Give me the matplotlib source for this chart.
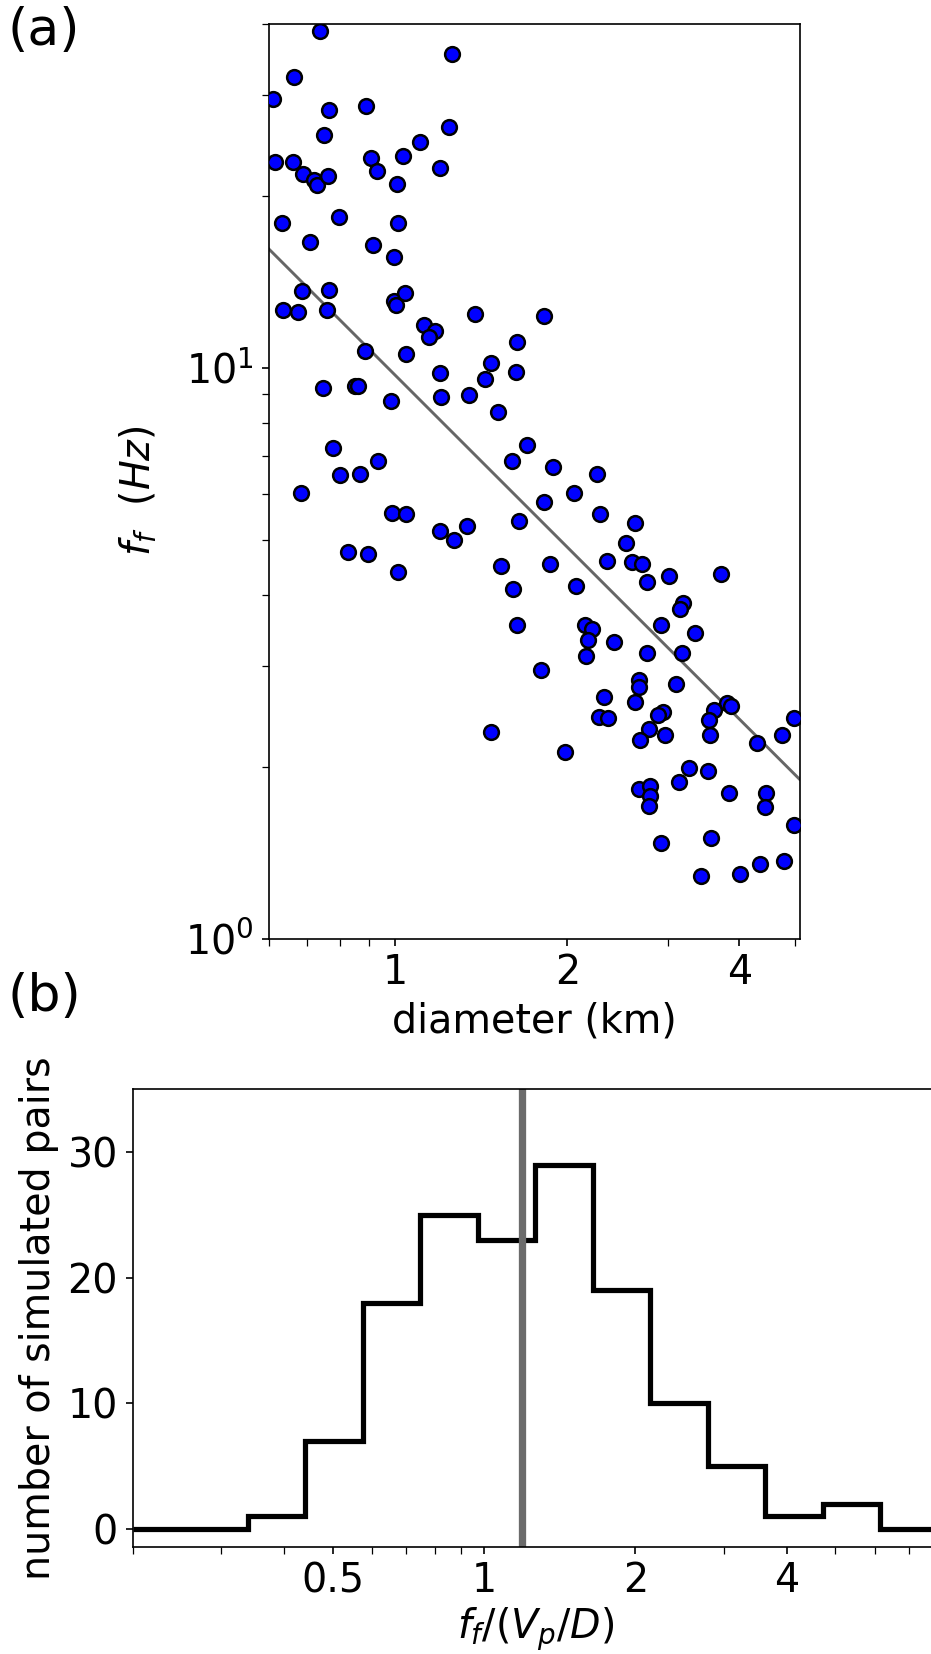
import numpy as np
import matplotlib
matplotlib.use('Agg')
import matplotlib.pyplot as plt
from matplotlib.ticker import NullFormatter

# (a) diametro vs frecuencia de esquina
diameter_km = [
    0.738, 1.257, 0.666, 0.612, 0.765, 0.890, 0.749, 1.244, 1.105, 0.615,
    0.661, 0.690, 0.722, 0.730, 0.764, 0.908, 0.929, 1.030, 1.199, 1.007,
    0.633, 0.798, 1.013, 0.709, 0.914, 0.996, 0.688, 0.767, 0.635, 0.676,
    0.761, 0.994, 1.003, 1.041, 1.379, 1.123, 1.174, 1.147, 1.821, 1.633,
    0.885, 1.046, 1.196, 1.473, 1.435, 1.629, 0.746, 0.849, 0.862, 0.983,
    1.204, 1.346, 1.515, 1.698, 1.599, 0.779, 0.933, 0.801, 0.868, 0.685,
    0.986, 1.043, 1.199, 1.265, 1.335, 1.649, 0.825, 0.895, 1.010, 1.534,
    1.610, 1.633, 1.471, 1.888, 2.258, 2.055, 1.821, 2.279, 2.632, 2.534,
    1.868, 2.347, 2.593, 2.707, 2.754, 3.013, 3.716, 2.075, 3.193, 3.150,
    2.145, 2.211, 2.914, 3.349, 2.178, 2.154, 2.418, 2.762, 3.180, 1.802,
    2.670, 2.675, 3.105, 2.316, 2.624, 2.272, 2.357, 2.937, 2.882, 2.776,
    2.681, 2.969, 3.813, 3.869, 3.618, 3.540, 3.550, 4.302, 4.751, 4.987,
    1.985, 3.266, 3.522, 3.142, 2.670, 2.791, 2.788, 2.781, 3.837, 4.454,
    4.431, 4.981, 2.914, 3.565, 3.428, 4.011, 4.355, 4.790,
]
corner_freq_hz = [
    38.9, 35.4, 32.3, 29.5, 28.3, 28.7, 25.6, 26.4, 24.9, 22.9,
    22.9, 21.8, 21.3, 20.9, 21.7, 23.3, 22.1, 23.5, 22.4, 21.0,
    17.9, 18.4, 17.9, 16.6, 16.4, 15.6, 13.6, 13.7, 12.6, 12.5,
    12.6, 13.1, 12.9, 13.5, 12.4, 11.9, 11.6, 11.3, 12.3, 11.1,
    10.7, 10.55, 9.80, 10.2, 9.57, 9.82, 9.20, 9.29, 9.29, 8.73,
    8.90, 8.96, 8.35, 7.31, 6.87, 7.23, 6.87, 6.48, 6.52, 6.04,
    5.57, 5.54, 5.17, 4.99, 5.29, 5.40, 4.76, 4.71, 4.39, 4.50,
    4.09, 3.55, 2.30, 6.69, 6.51, 6.04, 5.82, 5.54, 5.35, 4.93,
    4.53, 4.59, 4.56, 4.53, 4.22, 4.31, 4.36, 4.14, 3.87, 3.78,
    3.54, 3.49, 3.54, 3.43, 3.33, 3.13, 3.31, 3.17, 3.16, 2.95,
    2.84, 2.76, 2.79, 2.65, 2.60, 2.44, 2.43, 2.49, 2.46, 2.33,
    2.23, 2.27, 2.59, 2.56, 2.51, 2.42, 2.27, 2.20, 2.27, 2.43,
    2.12, 1.99, 1.97, 1.88, 1.83, 1.85, 1.78, 1.71, 1.80, 1.80,
    1.70, 1.58, 1.47, 1.50, 1.29, 1.30, 1.35, 1.37,
]
# ajuste f = C / D
fit_coef = 9.7
diam_lim = [0.6, 5.1]

# (b) histograma de f_f/(Vp/D)
hist_counts = [0, 0, 1, 7, 18, 25, 23, 29, 19, 10, 5, 1, 2, 0]
hist_lim = [0.2, 8.0]
hist_edges = np.logspace(np.log10(hist_lim[0]), np.log10(hist_lim[1]), len(hist_counts) + 1)
ratio_median = 1.19

plt.rcParams['font.size'] = 19
plt.rcParams['mathtext.fontset'] = 'dejavusans'

fig = plt.figure(figsize=(931 / 150, 1654 / 150), dpi=150)

# Panel (a)
ax1 = fig.add_axes([0.2884, 0.4325, 0.5704, 0.5530])
xx = np.array(diam_lim)
ax1.plot(xx, fit_coef / xx, color='0.4', lw=1.4, zorder=1)
ax1.scatter(diameter_km, corner_freq_hz, s=50, c='blue', edgecolors='black',
            linewidths=1.2, zorder=3)
ax1.set_xscale('log')
ax1.set_yscale('log')
ax1.set_xlim(diam_lim)
ax1.set_ylim(1, 40)
ax1.set_xticks([1, 2, 4], ['1', '2', '4'])
ax1.xaxis.set_minor_formatter(NullFormatter())
ax1.tick_params(which='both', length=3.5)
ax1.set_xlabel('diameter (km)')
ax1.set_ylabel(r'$f_f\ \ (Hz)$')
ax1.yaxis.set_label_coords(-0.205, 0.49)

# Panel (b)
ax2 = fig.add_axes([0.1425, 0.06475, 0.8649, 0.2767])
ax2.stairs(hist_counts, hist_edges, color='black', lw=2.5)
ax2.axvline(ratio_median, color='0.42', lw=3.5)
ax2.set_xscale('log')
ax2.set_xlim(hist_lim)
ax2.set_ylim(-1.45, 35)
ax2.set_xticks([0.5, 1, 2, 4], ['0.5', '1', '2', '4'])
ax2.xaxis.set_minor_formatter(NullFormatter())
ax2.tick_params(which='both', length=3.5)
ax2.set_yticks([0, 10, 20, 30])
ax2.set_xlabel(r'$f_f/(V_p/D)$', labelpad=2)
ax2.set_ylabel('number of simulated pairs')

fig.text(0.008, 1 - 6 / 1654, '(a)', fontsize=25, va='top', ha='left')
fig.text(0.008, 1 - 972 / 1654, '(b)', fontsize=25, va='top', ha='left')

fig.savefig('out.png', dpi=150)
